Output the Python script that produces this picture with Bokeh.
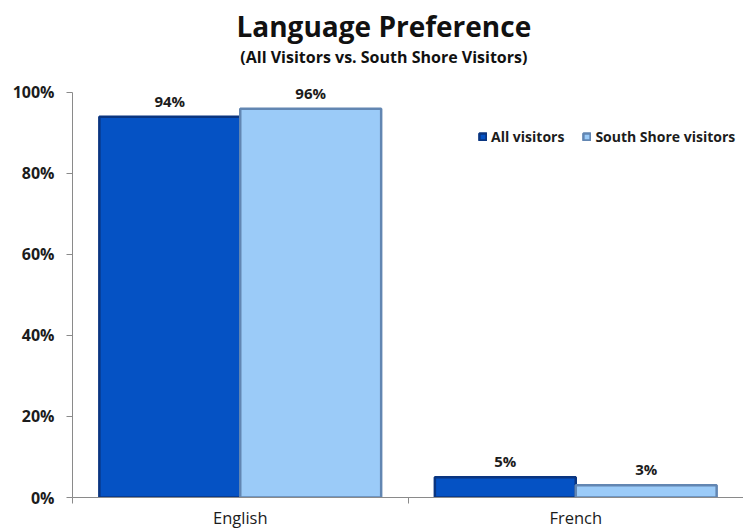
from bokeh.plotting import figure
from bokeh.models import (ColumnDataSource, FixedTicker, Range1d, Label, Legend,
                          LegendItem, LabelSet, CustomJSTickFormatter)
from bokeh.core.properties import value
from bokeh.embed import file_html
from bokeh.resources import INLINE

categories = ["English", "French"]
all_visitors = [94, 5]
south_shore = [96, 3]
y_ticks = [0, 20, 40, 60, 80, 100]
title_text = "Language Preference"
subtitle_text = "(All Visitors vs. South Shore Visitors)"

FONT = "Open Sans"
TXT = "#1c1c1c"

x_center = [i + 0.5 for i in range(len(categories))]
dodge = 0.21
bar_w = 0.42

# frame fills the top of the canvas; range above 100% holds the titles
Y_TOP = 122.7
p = figure(width=743, height=531, output_backend="svg", toolbar_location=None,
           x_range=Range1d(0, len(categories)), y_range=Range1d(0, Y_TOP),
           min_border_left=72, min_border_right=0, min_border_top=0,
           min_border_bottom=34)
p.outline_line_color = None
p.grid.visible = False
p.background_fill_color = "white"
p.border_fill_color = "white"

src_a = ColumnDataSource(dict(x=[c - dodge for c in x_center], top=all_visitors,
                              lab=[f"{v}%" for v in all_visitors]))
src_s = ColumnDataSource(dict(x=[c + dodge for c in x_center], top=south_shore,
                              lab=[f"{v}%" for v in south_shore]))

ra = p.vbar(x="x", top="top", width=bar_w, source=src_a, fill_color="#0552C4",
            line_color="#0A3580", line_width=2.5)
rs = p.vbar(x="x", top="top", width=bar_w, source=src_s, fill_color="#9BCBF8",
            line_color="#6286B2", line_width=2.5)

for src in (src_a, src_s):
    p.add_layout(LabelSet(x="x", y="top", text="lab", source=src, text_align="center",
                          y_offset=6, text_font=value(FONT), text_font_style="bold",
                          text_font_size="15px", text_color=TXT))

# axes
p.yaxis.ticker = FixedTicker(ticks=y_ticks)
p.yaxis.bounds = (0, 100)
p.yaxis.formatter = CustomJSTickFormatter(code="return tick + '%';")
p.yaxis.axis_line_color = "#8a8a8a"
p.yaxis.major_tick_line_color = "#8a8a8a"
p.yaxis.major_tick_out = 6
p.yaxis.major_tick_in = 0
p.yaxis.minor_tick_line_color = None
p.yaxis.major_label_text_font = FONT
p.yaxis.major_label_text_font_style = "bold"
p.yaxis.major_label_text_font_size = "16px"
p.yaxis.major_label_text_color = TXT
p.yaxis.major_label_standoff = 12

p.xaxis.ticker = FixedTicker(ticks=x_center,
                             minor_ticks=[float(i) for i in range(0, len(categories) + 1)])
p.xaxis.major_label_overrides = {c: n for c, n in zip(x_center, categories)}
p.xaxis.axis_line_color = "#8a8a8a"
p.xaxis.major_tick_line_color = None
p.xaxis.minor_tick_line_color = "#8a8a8a"
p.xaxis.minor_tick_out = 6
p.xaxis.minor_tick_in = 0
p.xaxis.major_label_text_font = FONT
p.xaxis.major_label_text_font_size = "16.5px"
p.xaxis.major_label_text_color = TXT
p.xaxis.major_label_standoff = 2

legend = Legend(items=[LegendItem(label="All visitors", renderers=[ra]),
                       LegendItem(label="South Shore visitors", renderers=[rs])],
                orientation="horizontal", location=(406, 351),
                glyph_width=9, glyph_height=9, label_text_font=FONT,
                label_text_font_style="bold", label_text_font_size="14px",
                label_text_color=TXT, spacing=18, padding=0, margin=0,
                border_line_color=None, background_fill_alpha=0,
                label_standoff=4)
p.add_layout(legend, "center")

p.add_layout(Label(x=0.928, y=116.4, text=title_text, text_align="center",
                   text_baseline="alphabetic", text_font=FONT, text_font_style="bold",
                   text_font_size="28px", text_color="#111111"))
p.add_layout(Label(x=0.928, y=108.7, text=subtitle_text, text_align="center",
                   text_baseline="alphabetic", text_font=FONT, text_font_style="bold",
                   text_font_size="16px", text_color="#111111"))

open("out.html", "w").write(file_html(p, INLINE))
